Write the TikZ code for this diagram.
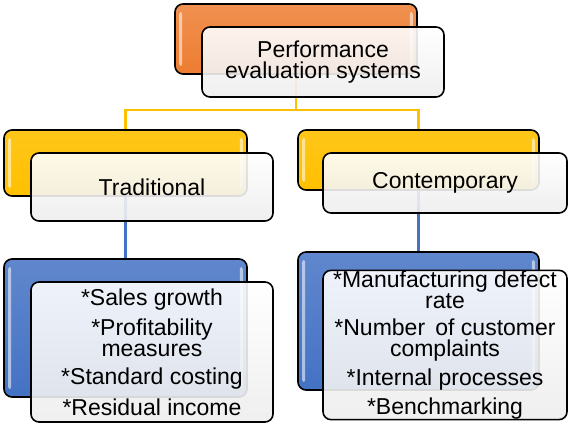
\documentclass[tikz,border=0pt]{standalone}
\usepackage{fontspec}
\setmainfont{Liberation Sans}
\usetikzlibrary{calc,backgrounds}
\definecolor{orng}{HTML}{ED7D31}
\definecolor{gold}{HTML}{FFC000}
\definecolor{blu}{HTML}{4472C4}

\begin{document}
\begin{tikzpicture}[x=0.5pt,y=-0.5pt,
  backbox/.style={draw=black,line width=0.8pt,rounded corners=4pt,inner sep=0pt},
  frontbox/.style={draw=black,line width=0.8pt,rounded corners=4pt,inner sep=0pt,
    top color=white,bottom color=black!7,fill opacity=0.9,text opacity=1,
    align=center,font=\fontsize{11.5}{10.5}\selectfont},
  link/.style={line width=1.1pt}]
\useasboundingbox (0,0) rectangle (571,426);

% top
\node[backbox,top color=orng!85!white,bottom color=orng,minimum width=121pt,minimum height=35pt] (pesb) at (296,39) {};
% second level
\node[backbox,top color=gold!90!white,bottom color=gold,minimum width=121.5pt,minimum height=33pt] (tradb) at (125.5,163) {};
\node[backbox,top color=gold!90!white,bottom color=gold,minimum width=120.5pt,minimum height=30pt] (contb) at (418.5,160) {};
% third level
\node[backbox,top color=blu!85!white,bottom color=blu,minimum width=121.5pt,minimum height=69pt] (tradl) at (125.5,328) {};
\node[backbox,top color=blu!85!white,bottom color=blu,minimum width=120.5pt,minimum height=69pt] (contl) at (418.5,321) {};

% glossy strips
\foreach \n in {pesb,tradb,contb,tradl,contl}{
  \fill[white,opacity=0.55,rounded corners=1pt] ($(\n.north west)+(5,9)$) rectangle ($(\n.south west)+(8,-9)$);
  \fill[white,opacity=0.55,rounded corners=1pt] ($(\n.north east)+(-8,9)$) rectangle ($(\n.south east)+(-5,-9)$);
}

\coordinate (split) at (296,110);
\begin{scope}[on background layer]
\draw[link,gold] (pesb.south) -- (split) -| (tradb.north);
\draw[link,gold] (split) -| (contb.north);
\draw[link,blu] (tradb.south) -- (tradl.north);
\draw[link,blu] (contb.south) -- (contl.north);
\end{scope}

\node[frontbox,minimum width=121pt,minimum height=35pt] (pes) at (323,62) {Performance\\evaluation systems};
\node[frontbox,minimum width=121pt,minimum height=34pt] (trad) at (152,187) {Traditional};
\node[frontbox,minimum width=122pt,minimum height=30pt] (cont) at (445,183) {Contemporary};
\node[frontbox,minimum width=121pt,minimum height=70pt] (tradlist) at (152,352)
  {*Sales growth\\[3.5pt]*Profitability\\measures\\[3.5pt]*Standard costing\\[3.5pt]*Residual income};
\node[frontbox,minimum width=122pt,minimum height=70pt] (contlist) at (445,345)
  {*Manufacturing defect\\rate\\[3pt]*Number\, of customer\\complaints\\[3pt]*Internal processes\\[3pt]*Benchmarking};

\end{tikzpicture}
\end{document}
